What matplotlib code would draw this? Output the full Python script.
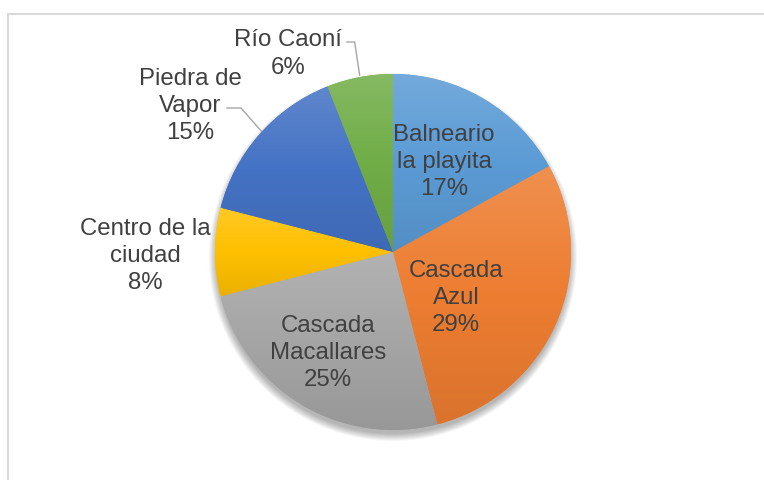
import numpy as np
import matplotlib
matplotlib.use("Agg")
import matplotlib.pyplot as plt
from matplotlib.colors import LinearSegmentedColormap, to_rgb
from matplotlib.patches import Circle, Rectangle

# Pie data (clockwise from 12 o'clock)
labels = ["Balneario\nla playita", "Cascada\nAzul", "Cascada\nMacallares",
          "Centro de la\nciudad", "Piedra de\nVapor", "Río Caoní"]
values = [17, 29, 25, 8, 15, 6]
base_colors = ["#5B9BD5", "#ED7D31", "#A5A5A5", "#FFC000", "#4472C4", "#70AD47"]

W, H = 764, 480
cx, cy, R = 393, H - 252, 178
text_color = "#404040"

fig = plt.figure(figsize=(W / 100, H / 100), dpi=100)
ax = fig.add_axes([0, 0, 1, 1])

# chart frame
ax.add_patch(Rectangle((7.5, -10), W, H - 14 + 10, fill=False,
                       edgecolor="#d9d9d9", linewidth=1.5, zorder=0))

# soft shadow under the pie
for i in range(10):
    ax.add_patch(Circle((cx, cy - 5), R + 6 - i * 0.8, facecolor="black",
                        edgecolor="none", alpha=0.03, zorder=1))

wedges, _ = ax.pie(values, startangle=90, counterclock=False, center=(cx, cy),
                   radius=R, colors=base_colors,
                   wedgeprops=dict(linewidth=0, zorder=2))


def blend(c, other, t):
    c, o = np.array(to_rgb(c)), np.array(to_rgb(other))
    return tuple(c * (1 - t) + o * t)


# vertical gradient per slice, lighter at the top
for w, c in zip(wedges, base_colors):
    cmap = LinearSegmentedColormap.from_list(
        "g", [blend(c, "black", 0.08), c, blend(c, "white", 0.15)])
    ext = w.get_path().get_extents()
    grad = np.linspace(0, 1, 256).reshape(-1, 1)
    im = ax.imshow(grad, cmap=cmap, origin="lower", aspect="auto",
                   extent=[ext.x0, ext.x1, ext.y0, ext.y1], zorder=3,
                   interpolation="bilinear")
    im.set_clip_path(w)

ax.set_xlim(0, W)
ax.set_ylim(0, H)
ax.axis("off")

font = dict(family=["Liberation Sans", "DejaVu Sans"], size=17.3,
            color=text_color, ha="center", va="center", linespacing=1.32, zorder=5)

# label positions (relative to pie centre, in pixels, y up) and whether a leader is drawn
offsets = [(51, 90), (63, -46), (-65, -101), (-248, -4), (-203, 146), (-105, 198)]
leaders = [False, False, False, False, True, True]

total = sum(values)
ang = 90.0
for lab, v, (dx, dy), lead in zip(labels, values, offsets, leaders):
    pct = f"{v / total * 100:.0f}%"
    ax.text(cx + dx, cy + dy, f"{lab}\n{pct}", **font)
    mid = np.deg2rad(ang - v / total * 180)
    ang -= v / total * 360
    if lead:
        ex, ey = cx + R * np.cos(mid), cy + R * np.sin(mid)
        if lab.startswith("Río"):
            ly = cy + dy + 12
            xs = [cx + dx + 59, ex - 5, ex]
            ys = [ly, ly, ey + 2]
        else:
            ly = cy + dy - 2
            xs = [cx + dx + 37, cx + dx + 51, ex + 2]
            ys = [ly, ly, ey + 3]
        ax.plot(xs, ys, color="#a6a6a6", linewidth=1, zorder=4)

fig.savefig("out.png", dpi=100)
